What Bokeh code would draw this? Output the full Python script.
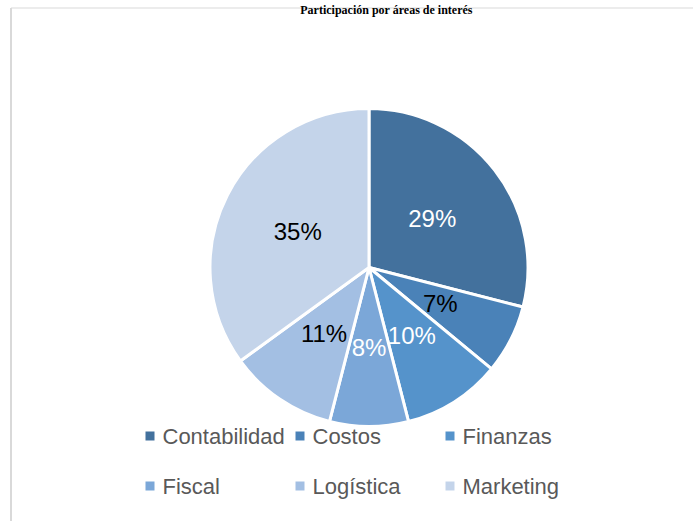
import numpy as np
from bokeh.plotting import figure
from bokeh.models import Range1d
from bokeh.core.properties import value
from bokeh.embed import file_html
from bokeh.resources import INLINE

# ---- data ----
categories = ["Contabilidad", "Costos", "Finanzas", "Fiscal", "Logística", "Marketing"]
percentages = [29, 7, 10, 8, 11, 35]
colors = ["#43719D", "#4A82B8", "#5593CB", "#7BA7D8", "#A3BFE3", "#C4D4EA"]
label_colors = ["white", "black", "white", "white", "black", "black"]
title_text = "Participación por áreas de interés"

# ---- layout ----
W, H = 693, 521
p = figure(width=W, height=H, output_backend="svg", toolbar_location=None,
           x_range=Range1d(0, W), y_range=Range1d(0, H), min_border=0)
p.axis.visible = False
p.grid.visible = False
p.outline_line_color = None
p.background_fill_color = "white"
p.border_fill_color = "white"

# chart area border
p.segment(x0=[10.5, 10.5], y0=[0, 513.5], x1=[10.5, W], y1=[513.5, 513.5],
          line_color="#D9D9D9", line_width=[2, 1])

# title
p.text(x=[386], y=[512], text=[title_text], text_font=value("Liberation Serif"),
       text_font_size="12px", text_font_style="bold", text_color="black",
       text_align="center", text_baseline="middle")

# pie
cx, cy, R = 368.5, 254, 159
vals = np.array(percentages, dtype=float)
frac = vals / vals.sum()
cum = np.concatenate([[0.0], np.cumsum(frac)])
start = np.pi / 2 - 2 * np.pi * cum[:-1]
end = np.pi / 2 - 2 * np.pi * cum[1:]
p.wedge(x=cx, y=cy, radius=R, start_angle=start, end_angle=end, direction="clock",
        fill_color=colors, line_color="white", line_width=3)

mid = (cum[:-1] + cum[1:]) / 2
theta = np.pi / 2 - 2 * np.pi * mid
lr = 80
p.text(x=cx + lr * np.cos(theta), y=cy + lr * np.sin(theta),
       text=[f"{v:.0f}%" for v in vals], text_color=label_colors,
       text_font=value("Liberation Sans"), text_font_size="24px",
       text_align="center", text_baseline="middle")

# legend
col_x = [149.5, 299.5, 449.5]
row_y = [85.5, 35.5]
lx = [col_x[i % 3] for i in range(len(categories))]
ly = [row_y[i // 3] for i in range(len(categories))]
p.rect(x=lx, y=ly, width=9, height=9, fill_color=colors, line_color=None)
p.text(x=[x + 12.5 for x in lx], y=ly, text=categories,
       text_color="#595959", text_font=value("Liberation Sans"), text_font_size="22px",
       text_align="left", text_baseline="middle")

open("out.html", "w").write(file_html(p, INLINE))
